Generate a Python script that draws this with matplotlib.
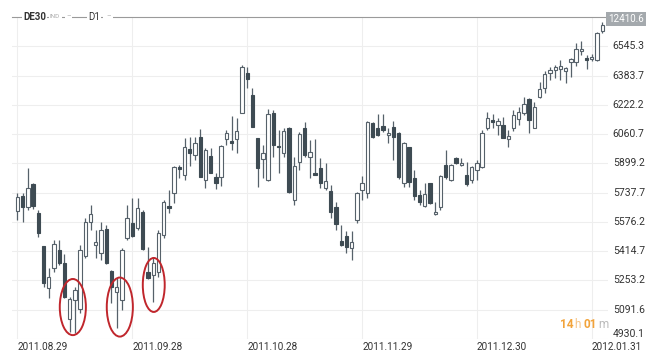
import numpy as np
import matplotlib
matplotlib.use("Agg")
import matplotlib.pyplot as plt
from matplotlib.patches import Ellipse
import matplotlib.transforms as mtransforms

plt.rcParams['font.family'] = ['Roboto', 'DejaVu Sans']

# daily DE30 candles, 2011.08.29 .. 2012.02.02
opens = [5638, 5719, 5660, 5784, 5624, 5443, 5210, 5320, 5421, 5348,
         5038, 5145, 5094, 5388, 5577, 5449, 5403, 5537, 5307, 5191,
         5145, 5486, 5568, 5541, 5632, 5301, 5283, 5301, 5504, 5664,
         5734, 5879, 5835, 5977, 5945, 6043, 5807, 5940, 5822, 5822,
         6032, 6023, 6032, 6179, 6400, 6277, 6038, 5922, 5807, 6179,
         5997, 5955, 6096, 5697, 5908, 6093, 5933, 5848, 5875, 5762,
         5747, 5660, 5472, 5498, 5430, 5587, 5752, 5734, 6124, 6096,
         6106, 6056, 6098, 6065, 5789, 5988, 5817, 5725, 5664, 5789,
         5620, 5660, 5890, 5807, 5931, 5890, 5835, 5807, 5863, 5881,
         6093, 6139, 6111, 6111, 6034, 6096, 6144, 6176, 6254, 6096,
         6267, 6317, 6396, 6415, 6420, 6409, 6457, 6460, 6519, 6482,
         6475, 6470, 6630]
highs = [5734, 5737, 5872, 5792, 5642, 5443, 5320, 5476, 5476, 5399,
         5163, 5218, 5449, 5596, 5669, 5531, 5577, 5559, 5310, 5265,
         5430, 5669, 5706, 5706, 5642, 5439, 5375, 5531, 5697, 5752,
         5884, 5890, 6038, 6043, 6046, 6087, 5982, 5982, 5844, 6000,
         6083, 6161, 6148, 6442, 6433, 6314, 6041, 6001, 6198, 6194,
         6083, 6093, 6100, 5936, 6074, 6129, 6028, 6032, 5927, 5900,
         5780, 5688, 5559, 5528, 5528, 5743, 5829, 6135, 6127, 6172,
         6172, 6093, 6135, 6074, 6019, 5991, 5863, 5752, 5792, 5792,
         5688, 5835, 5973, 5896, 5936, 5927, 5908, 5885, 5918, 6083,
         6181, 6170, 6151, 6157, 6083, 6194, 6212, 6267, 6258, 6236,
         6350, 6409, 6433, 6442, 6470, 6433, 6482, 6562, 6575, 6497,
         6501, 6623, 6678]
lows = [5587, 5577, 5642, 5646, 5494, 5215, 5154, 5301, 5338, 5154,
        4970, 4961, 5072, 5375, 5531, 5375, 5366, 5345, 5127, 4989,
        5090, 5476, 5494, 5531, 5421, 5262, 5136, 5274, 5486, 5624,
        5679, 5818, 5807, 5885, 5918, 5822, 5762, 5844, 5756, 5774,
        6001, 5973, 5958, 6176, 6314, 6098, 5770, 5817, 5803, 5936,
        5844, 5936, 5737, 5669, 5863, 5936, 5817, 5835, 5762, 5752,
        5596, 5531, 5445, 5403, 5366, 5568, 5697, 5706, 6038, 6050,
        6074, 6013, 5918, 5811, 5767, 5770, 5697, 5669, 5660, 5675,
        5614, 5642, 5811, 5803, 5896, 5885, 5776, 5792, 5807, 5875,
        6083, 6093, 6056, 6038, 5991, 6078, 6111, 6166, 6065, 6093,
        6262, 6286, 6359, 6369, 6359, 6341, 6378, 6438, 6497, 6420,
        6464, 6466, 6617]
closes = [5715, 5657, 5762, 5664, 5513, 5237, 5274, 5454, 5348, 5163,
          5149, 5200, 5421, 5577, 5620, 5467, 5531, 5348, 5219, 5219,
          5421, 5596, 5498, 5651, 5425, 5265, 5348, 5516, 5688, 5653,
          5881, 5868, 5991, 5958, 6010, 5826, 5973, 5848, 5789, 5995,
          6068, 6013, 6080, 6430, 6363, 6102, 5872, 5955, 6172, 6001,
          5988, 6078, 5743, 5885, 6061, 5945, 5964, 5837, 5789, 5802,
          5632, 5565, 5449, 5439, 5467, 5737, 5792, 6129, 6046, 6056,
          6083, 6065, 6046, 5822, 6010, 5798, 5719, 5688, 5730, 5679,
          5632, 5829, 5822, 5890, 5903, 5903, 5785, 5881, 5900, 6065,
          6151, 6126, 6133, 6041, 6052, 6166, 6181, 6225, 6139, 6212,
          6310, 6391, 6415, 6433, 6438, 6427, 6475, 6531, 6529, 6470,
          6488, 6617, 6663]

date_pos = [0, 22, 44, 66, 88, 110]
date_labels = ['2011.08.29', '2011.09.28', '2011.10.28', '2011.11.29', '2011.12.30', '2012.01.31']
price_ticks = [4930.1, 5091.6, 5253.2, 5414.7, 5576.2, 5737.7, 5899.2, 6060.7, 6222.2, 6383.7, 6545.3]

# red circles around the hammer candles: (candle index, price centre, width in bars, height in points)
circles = [(10.6, 5106, 5.0, 310), (19.6, 5106, 5.0, 326), (26.1, 5228, 4.2, 298)]

dark = '#3e4b53'
edge = '#56616a'
W, H = 660, 361

fig = plt.figure(figsize=(6.6, 3.61), dpi=100)
ax = fig.add_axes([12 / W, 1 - 339 / H, (608 - 12) / W, (339 - 17) / H])

x = np.arange(len(opens))
o = np.array(opens, float)
c = np.array(closes, float)
hi = np.array(highs, float)
lo = np.array(lows, float)
up = c >= o

ax.vlines(x, lo, hi, color=edge, linewidth=0.9, zorder=2)
bottoms = np.minimum(o, c)
heights = np.maximum(np.abs(c - o), 6)
ax.bar(x[up], heights[up], bottom=bottoms[up], width=0.64, color='white',
       edgecolor=edge, linewidth=0.8, zorder=3)
ax.bar(x[~up], heights[~up], bottom=bottoms[~up], width=0.64, color=dark,
       edgecolor=dark, linewidth=0.8, zorder=3)

for cx, cy, cw, ch in circles:
    ax.add_patch(Ellipse((cx, cy), cw, ch, fill=False, edgecolor='#c0262c',
                         linewidth=1.4, zorder=4))

ax.set_xlim(-1.05, 113.1)
ax.set_ylim(4929.7, 6707)

for p in date_pos:
    ax.axvline(p, color='#eeeeee', linewidth=0.8, zorder=0)
for p in price_ticks:
    ax.axhline(p, color='#eeeeee', linewidth=0.8, zorder=0)

ax.set_xticks(date_pos)
ax.set_xticklabels(date_labels, ha='left', fontsize=7.2, color='#333333')
ax.tick_params(axis='x', length=0, pad=2)
ax.set_yticks([])

trans = mtransforms.blended_transform_factory(ax.transAxes, ax.transData)
for p in price_ticks:
    va = 'bottom' if p == price_ticks[0] else 'center'
    ax.text(1.008, p, '%.1f' % p, transform=trans, fontsize=7.5, color='#333333',
            ha='left', va=va)

for s in ['left', 'right', 'bottom']:
    ax.spines[s].set_visible(False)
ax.spines['top'].set_color('#9a9a9a')
ax.spines['top'].set_linewidth(0.8)

# header
bg = dict(facecolor='white', edgecolor='none', pad=1)
fig.text(23 / W, 1 - 17 / H, 'DE30', fontsize=7, fontweight='bold', color='#333333',
         va='center', bbox=bg)
fig.text(50 / W, 1 - 17 / H, 'IND', fontsize=4.5, color='#aaaaaa', va='center', bbox=bg)
fig.text(66 / W, 1 - 17 / H, '\u2013', fontsize=5, color='#aaaaaa', va='center', bbox=bg)
fig.text(88 / W, 1 - 17 / H, 'D1', fontsize=7, color='#333333', va='center', bbox=bg)
fig.text(106 / W, 1 - 17 / H, '\u2013', fontsize=5, color='#aaaaaa', va='center',
         bbox=dict(facecolor='white', edgecolor='none', pad=2))
fig.text(626 / W, 1 - 19 / H, '12410.6', fontsize=7, color='white', ha='center', va='center',
         bbox=dict(facecolor='#a4a9ad', edgecolor='none', boxstyle='square,pad=0.25'))

# countdown "14h 01m": place each piece after the previous one
pieces = [('14', '#f2a33a', 'bold', 0), ('h', '#f6c487', 'normal', 0.5),
          ('01', '#f2a33a', 'bold', 3), ('m', '#bbbbbb', 'normal', 1)]
renderer = fig.canvas.get_renderer()
xpos = 560
for txt, col, wt, gap in pieces:
    xpos += gap
    t = fig.text(xpos / W, 1 - 328 / H, txt, fontsize=8.5, color=col, fontweight=wt,
                 va='baseline', ha='left')
    xpos += t.get_window_extent(renderer).width

fig.savefig('out.png', dpi=100)
